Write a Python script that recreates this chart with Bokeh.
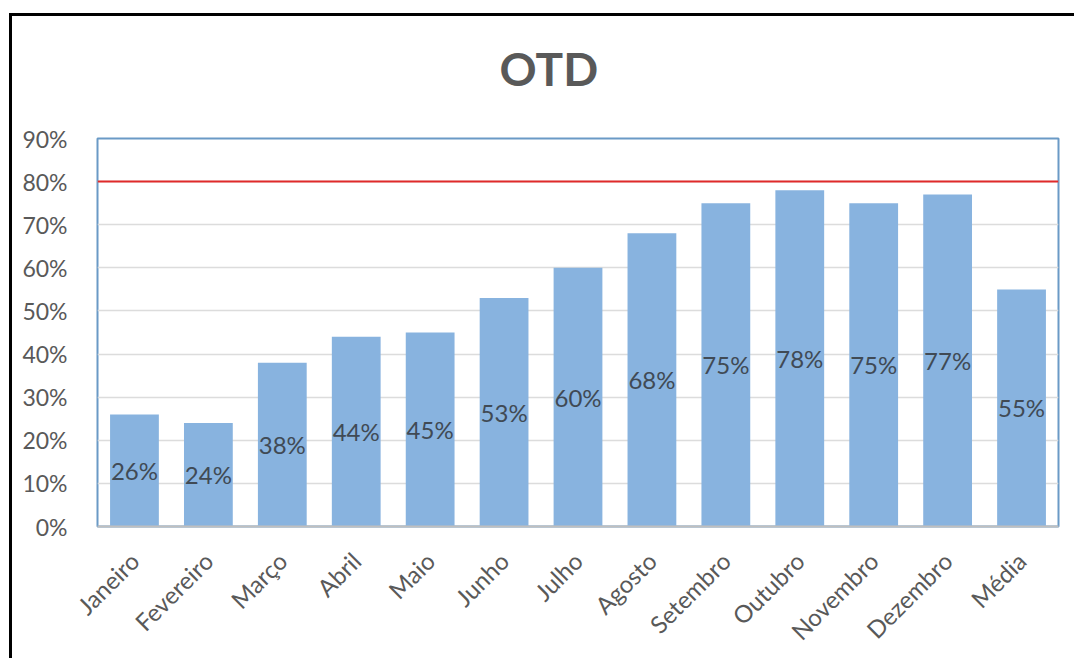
from bokeh.plotting import figure
from bokeh.models import (FixedTicker, NumeralTickFormatter, Span, ColumnDataSource, FactorRange,
                          Range1d)
from bokeh.core.properties import value
from bokeh.embed import file_html
from bokeh.resources import INLINE

categories = ["Janeiro", "Fevereiro", "Março", "Abril", "Maio", "Junho", "Julho",
              "Agosto", "Setembro", "Outubro", "Novembro", "Dezembro", "Média"]
otd = [0.26, 0.24, 0.38, 0.44, 0.45, 0.53, 0.60, 0.68, 0.75, 0.78, 0.75, 0.77, 0.55]
target = 0.80
y_ticks = [0.0, 0.1, 0.2, 0.3, 0.4, 0.5, 0.6, 0.7, 0.8, 0.9]
title_text = "OTD"

FONT = "Lato"
src = ColumnDataSource(dict(
    cat=categories,
    val=otd,
    mid=[v / 2 for v in otd],
    lbl=[f"{round(v * 100)}%" for v in otd],
))

p = figure(x_range=FactorRange(*categories, range_padding=0), y_range=Range1d(0, 0.9),
           width=1065, height=680, output_backend="svg", toolbar_location=None,
           title=title_text, min_border_left=88, min_border_right=16,
           min_border_top=160, min_border_bottom=131)
p.border_fill_color = None
p.background_fill_color = "white"
p.styles = {
    "position": "absolute", "left": "9px", "top": "-22px",
    "background": "linear-gradient(#000, #000) 0px 35px / 100% 3px no-repeat, "
                  "linear-gradient(#000, #000) 0px 35px / 3px 100% no-repeat",
}

p.title.text_font = FONT
p.title.text_font_size = "46px"
p.title.text_font_style = "bold"
p.title.text_color = "#595959"
p.title.align = "left"
p.title.offset = 402
p.title.standoff = 86

p.vbar(x="cat", top="val", width=0.66, source=src, fill_color="#88B3DF", line_color=None)
p.text(x="cat", y="mid", text="lbl", source=src, text_align="center", text_baseline="middle",
       text_font=value(FONT), text_font_size="24px", text_color="#404A55")

p.add_layout(Span(location=target, dimension="width", line_color="#E02A2A", line_width=2))

p.outline_line_color = "#6A9AC6"
p.outline_line_width = 2
p.outline_line_alpha = 1.0

p.xgrid.grid_line_color = None
p.ygrid.grid_line_color = "#DCDCDC"
p.ygrid.grid_line_width = 1.5

p.yaxis.ticker = FixedTicker(ticks=y_ticks)
p.yaxis.formatter = NumeralTickFormatter(format="0%")
p.yaxis.axis_line_color = None
p.yaxis.major_tick_line_color = None
p.yaxis.minor_tick_line_color = None
p.yaxis.major_label_standoff = 24
p.yaxis.major_label_text_font = FONT
p.yaxis.major_label_text_font_size = "23px"
p.yaxis.major_label_text_color = "#595959"

p.xaxis.axis_line_color = "#BFBFBF"
p.xaxis.axis_line_width = 2
p.xaxis.major_tick_line_color = None
p.xaxis.minor_tick_line_color = None
p.xaxis.major_label_orientation = 0.785
p.xaxis.major_label_standoff = 24
p.xaxis.major_label_text_font = FONT
p.xaxis.major_label_text_font_size = "24px"
p.xaxis.major_label_text_color = "#595959"

open("out.html", "w").write(file_html(p, INLINE))
